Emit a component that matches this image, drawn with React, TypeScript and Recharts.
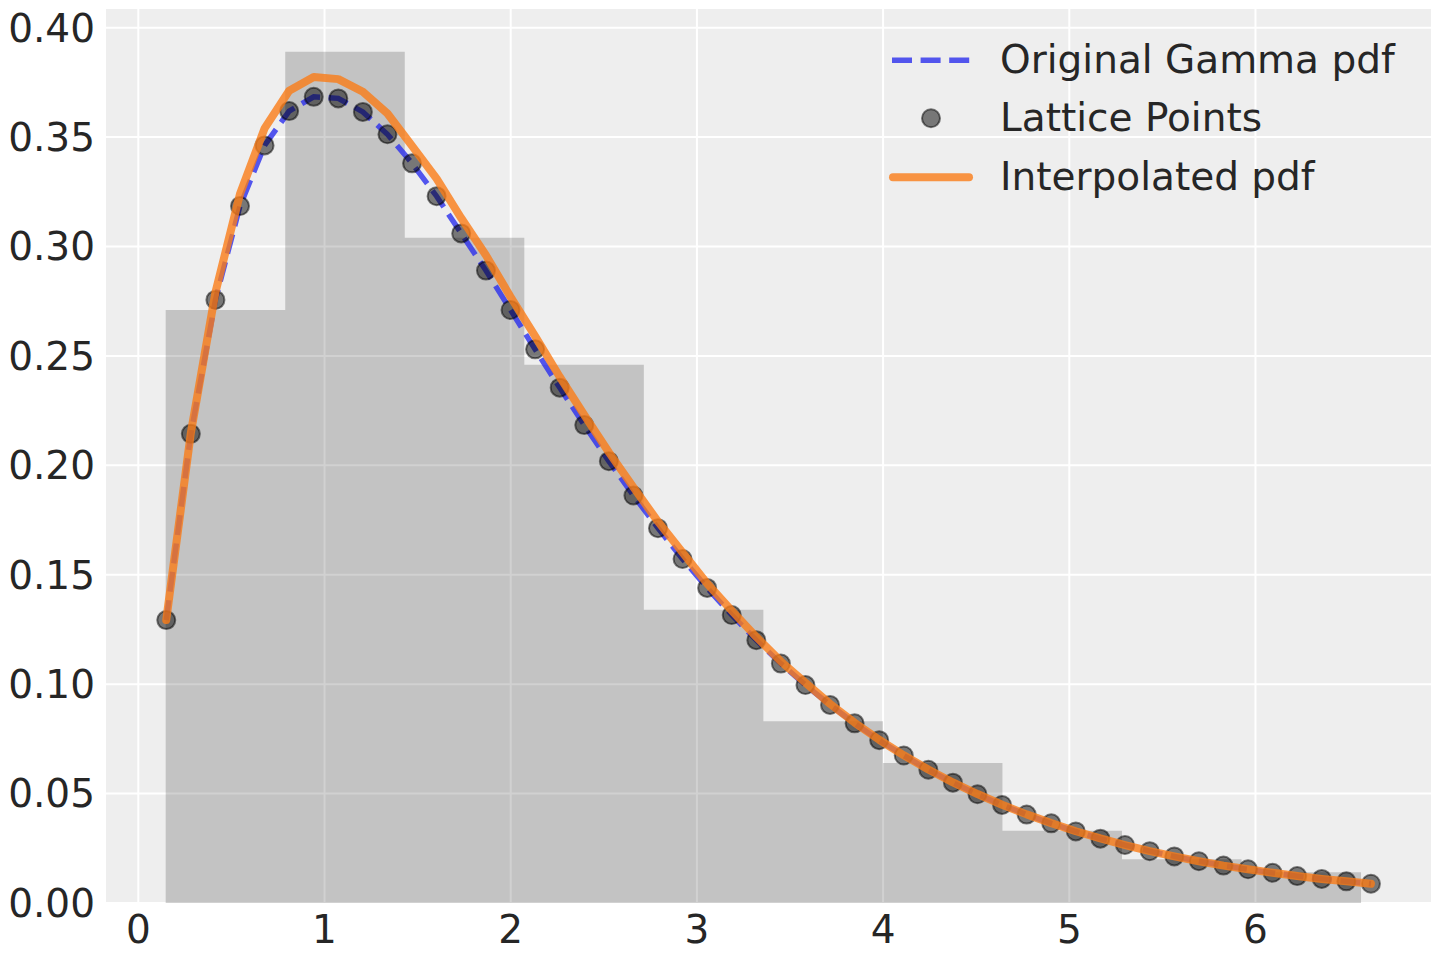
import {
  ComposedChart,
  Area,
  Line,
  Scatter,
  XAxis,
  YAxis,
  CartesianGrid,
  Legend,
} from "recharts";

// lattice grid the pdf was evaluated on
const LATTICE_X = [
  0.15, 0.282, 0.414, 0.546, 0.678, 0.81, 0.942, 1.074, 1.206, 1.338,
  1.47, 1.602, 1.734, 1.867, 1.999, 2.131, 2.263, 2.395, 2.527, 2.659,
  2.791, 2.923, 3.055, 3.187, 3.319, 3.451, 3.583, 3.715, 3.847, 3.979,
  4.111, 4.243, 4.375, 4.507, 4.639, 4.771, 4.903, 5.035, 5.167, 5.299,
  5.432, 5.564, 5.696, 5.828, 5.96, 6.092, 6.224, 6.356, 6.488, 6.62,
];

const GAMMA_PDF = [
  0.1293, 0.2144, 0.2756, 0.3185, 0.3462, 0.3619, 0.3684, 0.3677, 0.3615, 0.3513,
  0.338, 0.323, 0.306, 0.289, 0.271, 0.253, 0.2355, 0.2184, 0.2019, 0.1862,
  0.1713, 0.1572, 0.144, 0.1316, 0.1201, 0.1094, 0.0996, 0.0905, 0.0821, 0.0744,
  0.0674, 0.0609, 0.055, 0.0497, 0.0448, 0.0404, 0.0364, 0.0327, 0.0294, 0.0265,
  0.0237, 0.0213, 0.0191, 0.0171, 0.0154, 0.0138, 0.0123, 0.011, 0.0099, 0.0088,
];

const INTERP_PDF = [
  0.1293, 0.2148, 0.279, 0.324, 0.354, 0.3712, 0.3775, 0.3765, 0.3707, 0.3608,
  0.346, 0.331, 0.313, 0.296, 0.277, 0.259, 0.2405, 0.223, 0.206, 0.19,
  0.1743, 0.1602, 0.146, 0.1336, 0.1216, 0.1104, 0.1006, 0.091, 0.0824, 0.0746,
  0.0675, 0.061, 0.0551, 0.0498, 0.0449, 0.0405, 0.0365, 0.0328, 0.0295, 0.0265,
  0.0237, 0.0213, 0.0191, 0.0171, 0.0154, 0.0138, 0.0123, 0.011, 0.0099, 0.0088,
];

const HIST_EDGES = [0.147, 0.789, 1.431, 2.073, 2.715, 3.357, 3.999, 4.641, 5.283, 5.925, 6.567];
const HIST_HEIGHTS = [0.271, 0.389, 0.304, 0.246, 0.134, 0.083, 0.064, 0.033, 0.02, 0.014];

const X_TICKS = [0, 1, 2, 3, 4, 5, 6];
const Y_TICKS = [0, 0.05, 0.1, 0.15, 0.2, 0.25, 0.3, 0.35, 0.4];

const LEGEND_ITEMS = [
  { label: "Original Gamma pdf", kind: "dashed" },
  { label: "Lattice Points", kind: "dot" },
  { label: "Interpolated pdf", kind: "solid" },
];

const FONT = "DejaVu Sans";
const FONT_SIZE = 39;
const TEXT = "#262626";
const BLUE = "#2a2eec";
const ORANGE = "#fa7c17";

const gammaData = LATTICE_X.map((x, i) => ({ x, y: GAMMA_PDF[i] }));
const interpData = LATTICE_X.map((x, i) => ({ x, y: INTERP_PDF[i] }));
const histData = [
  ...HIST_HEIGHTS.map((h, i) => ({ x: HIST_EDGES[i], y: h })),
  { x: HIST_EDGES[HIST_EDGES.length - 1], y: HIST_HEIGHTS[HIST_HEIGHTS.length - 1] },
];

const ROW_H = 58.5;

function LegendBox() {
  return (
    <div style={{ fontFamily: FONT, fontSize: FONT_SIZE, color: TEXT }}>
      {LEGEND_ITEMS.map((item) => (
        <div key={item.label} style={{ display: "flex", alignItems: "center", height: ROW_H }}>
          <svg width={112} height={ROW_H} style={{ display: "block" }}>
            {item.kind === "dashed" && (
              <line
                x1={4}
                x2={82}
                y1={ROW_H / 2}
                y2={ROW_H / 2}
                stroke={BLUE}
                strokeOpacity={0.8}
                strokeWidth={5.4}
                strokeDasharray="20 8.6"
              />
            )}
            {item.kind === "dot" && (
              <circle
                cx={43}
                cy={ROW_H / 2}
                r={9}
                fill="#000"
                fillOpacity={0.5}
                stroke="#000"
                strokeOpacity={0.5}
                strokeWidth={2}
              />
            )}
            {item.kind === "solid" && (
              <line
                x1={5}
                x2={81}
                y1={ROW_H / 2}
                y2={ROW_H / 2}
                stroke={ORANGE}
                strokeOpacity={0.8}
                strokeWidth={8}
                strokeLinecap="round"
              />
            )}
          </svg>
          <span style={{ lineHeight: `${ROW_H}px`, whiteSpace: "nowrap" }}>{item.label}</span>
        </div>
      ))}
    </div>
  );
}

const LatticeDot = (props: any) => (
  <circle
    cx={props.cx}
    cy={props.cy}
    r={9}
    fill="#000"
    fillOpacity={0.5}
    stroke="#000"
    strokeOpacity={0.5}
    strokeWidth={2}
  />
);

export default function App() {
  const tick = { fontSize: FONT_SIZE, fill: TEXT, fontFamily: FONT };
  return (
    <div style={{ position: "absolute", left: 0, top: 0, fontFamily: FONT }}>
      <ComposedChart width={1440} height={960} margin={{ top: 8, right: 8, bottom: 0, left: 0 }}>
        <CartesianGrid fill="#eeeeee" stroke="#ffffff" strokeWidth={2} />
        <XAxis
          type="number"
          dataKey="x"
          domain={[-0.179, 6.948]}
          ticks={X_TICKS}
          allowDataOverflow
          axisLine={false}
          tickLine={false}
          tickSize={0}
          tickMargin={12}
          height={57}
          interval={0}
          tick={tick}
        />
        <YAxis
          type="number"
          domain={[0, 0.409]}
          ticks={Y_TICKS}
          allowDataOverflow
          axisLine={false}
          tickLine={false}
          tickSize={0}
          tickMargin={10}
          width={105}
          interval={0}
          tick={tick}
          tickFormatter={(v: number) => v.toFixed(2)}
        />
        <Area
          data={histData}
          dataKey="y"
          type="stepAfter"
          fill="#000"
          fillOpacity={0.18}
          stroke="none"
          dot={false}
          activeDot={false}
          legendType="none"
          isAnimationActive={false}
        />
        <Line
          data={gammaData}
          dataKey="y"
          name="Original Gamma pdf"
          type="linear"
          stroke={BLUE}
          strokeOpacity={0.8}
          strokeWidth={5.4}
          strokeDasharray="20 8.6"
          dot={false}
          activeDot={false}
          isAnimationActive={false}
        />
        <Scatter
          data={gammaData}
          dataKey="y"
          name="Lattice Points"
          shape={LatticeDot}
          isAnimationActive={false}
        />
        <Line
          data={interpData}
          dataKey="y"
          name="Interpolated pdf"
          type="linear"
          stroke={ORANGE}
          strokeOpacity={0.8}
          strokeWidth={8}
          strokeLinecap="round"
          strokeLinejoin="round"
          dot={false}
          activeDot={false}
          isAnimationActive={false}
          zIndex={700}
        />
        <Legend
          layout="horizontal"
          verticalAlign="middle"
          align="center"
          content={() => <LegendBox />}
          wrapperStyle={{ left: 888, top: 30.6, width: "auto", height: "auto" }}
        />
      </ComposedChart>
    </div>
  );
}
